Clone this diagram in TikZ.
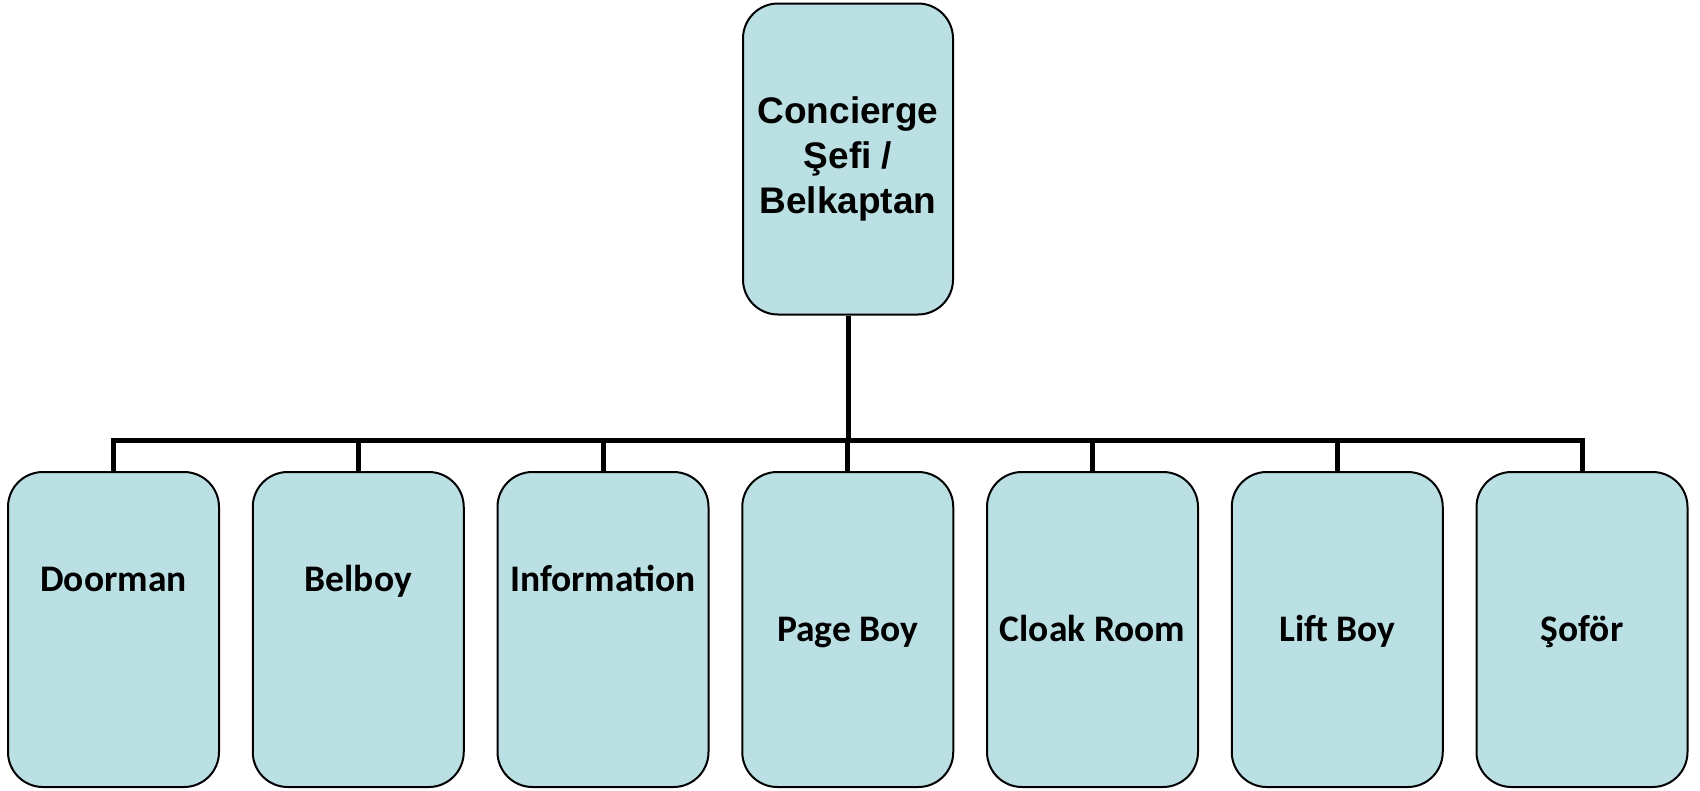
\documentclass[tikz,border=0pt]{standalone}
\usepackage{fontspec}
\setmainfont{Carlito}
\newfontfamily\arialfont{Liberation Sans}
\usetikzlibrary{positioning}
\definecolor{boxfill}{HTML}{BBE0E3}
\tikzset{
	link/.style={draw=black, line width=5pt},
	every node/.style={inner sep=0pt},
}

\begin{document}
\begin{tikzpicture}[
    x=1pt,
    y=-1pt,
    chiefbox/.style={draw, line width=2pt, fill=boxfill, rounded corners=35pt,
        minimum width=210pt, minimum height=311pt, align=center,
        font=\arialfont\bfseries\fontsize{37}{45}\selectfont},
    staffbox/.style={draw, line width=2pt, fill=boxfill, rounded corners=35pt,
        minimum width=211pt, minimum height=315pt,
        text height=24pt, text depth=0pt,
        font=\bfseries\fontsize{37.5}{44}\selectfont},
    raised/.style={text depth=101pt}
]
\useasboundingbox (0,0) rectangle (1700,790);

% --- Top ---
\node[chiefbox] (chief) at (848,159) {Concierge\\ Şefi /\\ Belkaptan};

% --- Staff ---
\node[staffbox, raised] (doorman) at (113.5,629.5) {Doorman};
\node[staffbox, raised] (belboy) at (358.25,629.5) {Belboy};
\node[staffbox, raised] (info) at (603,629.5) {Information};
\node[staffbox] (pageboy) at (847.75,629.5) {Page Boy};
\node[staffbox] (cloak) at (1092.5,629.5) {Cloak Room};
\node[staffbox] (liftboy) at (1337.25,629.5) {Lift Boy};
\node[staffbox] (sofor) at (1582,629.5) {Şoför};

% --- Connectors ---
\coordinate (bar) at (848,440);
\draw[link] (chief.south) -- (bar);
\foreach \n in {doorman,belboy,info,pageboy,cloak,liftboy,sofor}
    \draw[link] (bar) -| (\n.north);
\end{tikzpicture}
\end{document}
